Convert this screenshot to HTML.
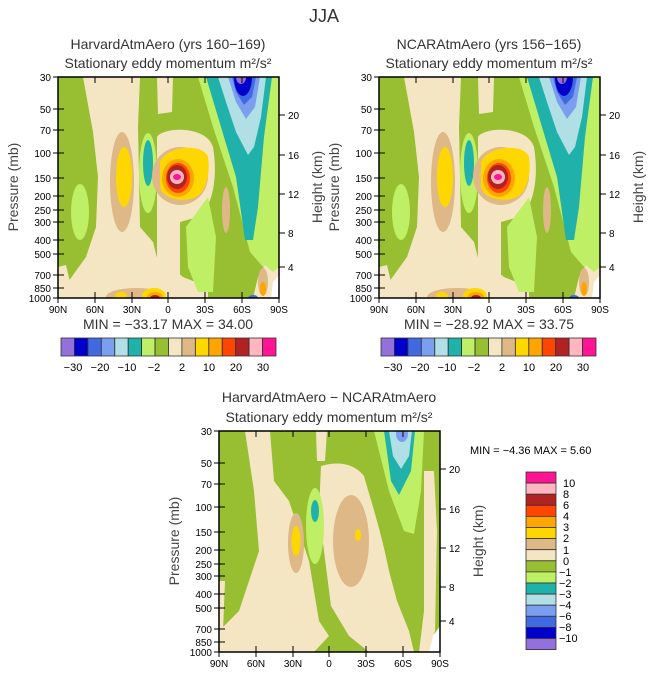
<!DOCTYPE html>
<html><head><meta charset="utf-8"><style>
html,body{margin:0;padding:0;background:#fff;}
svg{display:block;font-family:"Liberation Sans",sans-serif;}
</style></head><body>
<svg width="649" height="676" viewBox="0 0 649 676" xmlns="http://www.w3.org/2000/svg">
<defs>
<clipPath id="cp"><rect x="0" y="0" width="221" height="221"/></clipPath>
<g id="top">
<g clip-path="url(#cp)">
<rect x="0" y="0" width="221" height="221" fill="#98BE32"/>
<path d="M25,0 L82,0 L80,50 L82,150 L95,165 L100,185 L99,140 L99,221 L0,221 L10,205 L28,180 L38,150 L40,100 L35,55 Z" fill="#F5E6C3"/>
<path d="M60,185 L100,180 L125,200 L150,210 L150,221 L60,221 Z" fill="#F5E6C3"/>
<path d="M99,0 L115,0 L114,35 L100,37 Z" fill="#F5E6C3"/>
<path d="M99,60 C105,50 148,48 155,70 C160,100 155,130 140,140 L122,145 L122,200 L99,200 Z" fill="#F5E6C3"/>
<path d="M0,190 L8,188 L12,205 L5,221 L0,221 Z" fill="#F5E6C3"/>
<ellipse cx="22" cy="135" rx="9" ry="28" fill="#BFEF64"/>
<ellipse cx="64" cy="105" rx="12" ry="50" fill="#DEB887"/>
<ellipse cx="66" cy="100" rx="8" ry="30" fill="#FFD700"/>
<ellipse cx="90" cy="96" rx="9" ry="40" fill="#BFEF64"/>
<ellipse cx="90" cy="86" rx="5" ry="23" fill="#20B2AA"/>
<path d="M128,150 L150,120 L158,160 L155,215 L140,215 L130,190 Z" fill="#BFEF64"/>
<ellipse cx="168" cy="133" rx="4" ry="23" fill="#DEB887"/>
<path d="M140,0 L221,0 L221,200 L205,190 L192,175 L175,110 L155,50 Z" fill="#BFEF64"/>
<path d="M148,0 L214,0 L206,60 L200,130 L195,163 L187,163 L178,100 L160,40 Z" fill="#20B2AA"/>
<path d="M160,0 L208,0 L203,40 L196,70 L190,78 L178,55 L168,25 Z" fill="#B0E0E6"/>
<path d="M170,0 L202,0 L197,30 L188,42 L178,25 Z" fill="#7B9EF0"/>
<path d="M174,0 L198,0 L194,20 L186,28 L178,15 Z" fill="#4169E1"/>
<ellipse cx="185" cy="0" rx="9" ry="19" fill="#0000CD"/>
<ellipse cx="183" cy="0" rx="5" ry="7" fill="#9370DB"/>
<ellipse cx="78" cy="220" rx="30" ry="9" fill="#DEB887"/>
<ellipse cx="63" cy="219" rx="6" ry="4" fill="#FFD700"/>
<ellipse cx="96" cy="219" rx="12" ry="8" fill="#FFD700"/>
<ellipse cx="97" cy="220" rx="8" ry="5" fill="#FFA500"/>
<ellipse cx="97" cy="221" rx="5" ry="3" fill="#B22222"/>
<path d="M195,221 L200,200 L207,188 L215,195 L221,190 L221,221 Z" fill="#F5E6C3"/>
<ellipse cx="205" cy="205" rx="5" ry="14" fill="#DEB887"/>
<ellipse cx="205" cy="212" rx="3" ry="7" fill="#FFA500"/>
<path d="M215,205 L221,198 L221,221 L213,221 Z" fill="#fff"/>
<ellipse cx="195" cy="221" rx="5" ry="3" fill="#4169E1"/>
<ellipse cx="122" cy="99" rx="28" ry="29" fill="#DEB887"/>
<path d="M102,85 C110,68 145,66 150,80 C153,100 146,116 138,120 C125,126 105,122 102,110 Z" fill="#FFD700"/>
<ellipse cx="120" cy="101" rx="16" ry="19" fill="#FFA500"/>
<ellipse cx="120" cy="101" rx="12" ry="15" fill="#FF4500"/>
<ellipse cx="119" cy="100" rx="10" ry="12" fill="#B22222"/>
<ellipse cx="119" cy="100" rx="7" ry="7" fill="#FFB6C1"/>
<ellipse cx="119" cy="100" rx="4" ry="3" fill="#FF1493"/>
</g>
</g>
<g id="ax" stroke="#000" stroke-width="1" fill="none">
<rect x="0" y="0" width="221" height="221" stroke-width="1.5"/>
<path d="M0,0v6M37,0v6M74,0v6M110,0v6M147,0v6M184,0v6M221,0v6M0,221v-6M37,221v-6M74,221v-6M110,221v-6M147,221v-6M184,221v-6M221,221v-6
M0,32h6M0,53h6M0,76h6M0,101h6M0,119h6M0,133h6M0,145h6M0,163h6M0,177h6M0,198h6M0,211h6
M221,38h6M221,78h6M221,117h6M221,156h6M221,190h6"/>
<path d="M0,221v5M37,221v5M74,221v5M110,221v5M147,221v5M184,221v5M221,221v5M0,0h-5M0,32h-5M0,53h-5M0,76h-5M0,101h-5M0,119h-5M0,133h-5M0,145h-5M0,163h-5M0,177h-5M0,198h-5M0,211h-5M0,221h-5"/>
</g>
<g id="lab" font-size="10" fill="#000">
<g text-anchor="end">
<text x="-7" y="4">30</text><text x="-7" y="36">50</text><text x="-7" y="57">70</text><text x="-7" y="80">100</text><text x="-7" y="105">150</text><text x="-7" y="123">200</text><text x="-7" y="137">250</text><text x="-7" y="149">300</text><text x="-7" y="167">400</text><text x="-7" y="181">500</text><text x="-7" y="202">700</text><text x="-7" y="215">850</text><text x="-7" y="225">1000</text>
</g>
<g>
<text x="230" y="42">20</text><text x="230" y="82">16</text><text x="230" y="121">12</text><text x="230" y="160">8</text><text x="230" y="194">4</text>
</g>
<g text-anchor="middle">
<text x="0" y="236">90N</text><text x="37" y="236">60N</text><text x="74" y="236">30N</text><text x="110" y="236">0</text><text x="147" y="236">30S</text><text x="184" y="236">60S</text><text x="221" y="236">90S</text>
</g>
<text transform="translate(-40,110) rotate(-90)" text-anchor="middle" font-size="14" fill="#444">Pressure (mb)</text>
<text transform="translate(264,110) rotate(-90)" text-anchor="middle" font-size="14" fill="#444">Height (km)</text>
</g>
<g id="cbar" stroke="#333" stroke-width="0.8">
<rect x="0" width="13.4" height="18" fill="#9370DB"/><rect x="13.4" width="13.4" height="18" fill="#0000CD"/><rect x="26.9" width="13.4" height="18" fill="#4169E1"/><rect x="40.3" width="13.4" height="18" fill="#7B9EF0"/><rect x="53.8" width="13.4" height="18" fill="#B0E0E6"/><rect x="67.2" width="13.4" height="18" fill="#20B2AA"/><rect x="80.6" width="13.4" height="18" fill="#BFEF64"/><rect x="94.1" width="13.4" height="18" fill="#98BE32"/><rect x="107.5" width="13.4" height="18" fill="#F5E6C3"/><rect x="120.9" width="13.4" height="18" fill="#DEB887"/><rect x="134.4" width="13.4" height="18" fill="#FFD700"/><rect x="147.8" width="13.4" height="18" fill="#FFA500"/><rect x="161.3" width="13.4" height="18" fill="#FF4500"/><rect x="174.7" width="13.4" height="18" fill="#B22222"/><rect x="188.1" width="13.4" height="18" fill="#FFB6C1"/><rect x="201.6" width="13.4" height="18" fill="#FF1493"/>
<g stroke="none" font-size="11" text-anchor="middle" fill="#000">
<text x="12" y="33">−30</text><text x="39" y="33">−20</text><text x="66" y="33">−10</text><text x="93" y="33">−2</text><text x="121" y="33">2</text><text x="148" y="33">10</text><text x="175" y="33">20</text><text x="202" y="33">30</text>
</g>
</g>
</defs>

<text x="324" y="22" font-size="18" text-anchor="middle" fill="#333">JJA</text>

<g font-size="14" text-anchor="middle" fill="#333">
<text x="168" y="49">HarvardAtmAero (yrs 160−169)</text>
<text x="168" y="68">Stationary eddy momentum  m²/s²</text>
<text x="489" y="49">NCARAtmAero (yrs 156−165)</text>
<text x="489" y="68">Stationary eddy momentum  m²/s²</text>
<text x="329" y="402">HarvardAtmAero − NCARAtmAero</text>
<text x="329" y="422">Stationary eddy momentum  m²/s²</text>
<text x="168" y="329">MIN = −33.17   MAX =  34.00</text>
<text x="489" y="329">MIN = −28.92   MAX =  33.75</text>
</g>

<g transform="translate(58,77)"><use href="#top"/><use href="#ax"/><use href="#lab"/></g>
<g transform="translate(379,77)"><use href="#top"/><use href="#ax"/><use href="#lab"/></g>
<g transform="translate(61,338)"><use href="#cbar"/></g>
<g transform="translate(381,338)"><use href="#cbar"/></g>

<g transform="translate(219,431)">
<clipPath id="cp2"><rect x="0" y="0" width="221" height="221"/></clipPath>
<g clip-path="url(#cp2)">
<rect x="0" y="0" width="221" height="221" fill="#98BE32"/>
<path d="M26,0 L51,0 L55,50 L70,70 L90,130 L95,160 L100,190 L110,205 L95,221 L0,221 L0,200 L20,180 L30,150 L40,120 L35,60 Z" fill="#F5E6C3"/>
<path d="M97,0 L108,0 L106,30 L98,30 Z" fill="#F5E6C3"/>
<path d="M102,35 C118,30 135,32 145,45 C152,70 162,100 170,140 L178,170 L190,200 L195,221 L150,221 L130,205 L112,175 L105,120 L100,80 Z" fill="#F5E6C3"/>
<path d="M205,40 L215,40 L218,100 L216,200 L210,221 L200,221 L205,180 Z" fill="#F5E6C3"/>
<path d="M0,150 L6,150 L4,200 L0,210 Z" fill="#F5E6C3"/>
<ellipse cx="77" cy="112" rx="8" ry="30" fill="#DEB887"/>
<ellipse cx="77" cy="110" rx="4.5" ry="15" fill="#FFD700"/>
<ellipse cx="96" cy="95" rx="9" ry="38" fill="#BFEF64"/>
<ellipse cx="96" cy="80" rx="4" ry="11" fill="#20B2AA"/>
<ellipse cx="132" cy="110" rx="18" ry="46" fill="#DEB887"/>
<ellipse cx="139" cy="104" rx="3" ry="6" fill="#FFD700"/>
<path d="M155,0 L205,0 L202,60 L195,103 L185,100 L170,60 Z" fill="#BFEF64"/>
<path d="M165,0 L196,0 L192,40 L180,64 L172,50 Z" fill="#20B2AA"/>
<path d="M170,0 L193,0 L190,25 L182,38 L174,25 Z" fill="#B0E0E6"/>
<ellipse cx="183" cy="3" rx="6" ry="8" fill="#7B9EF0"/>
<path d="M210,221 L214,205 L221,195 L221,221 Z" fill="#fff"/>
</g>
<use href="#ax"/><use href="#lab"/>
</g>

<text x="470" y="454" font-size="11" fill="#000">MIN =   −4.36   MAX =    5.60</text>

<g transform="translate(526,472)" stroke="#333" stroke-width="0.8">
<rect y="0" width="30" height="11.1" fill="#FF1493"/><rect y="11.1" width="30" height="11.1" fill="#FFB6C1"/><rect y="22.2" width="30" height="11.1" fill="#B22222"/><rect y="33.3" width="30" height="11.1" fill="#FF4500"/><rect y="44.4" width="30" height="11.1" fill="#FFA500"/><rect y="55.5" width="30" height="11.1" fill="#FFD700"/><rect y="66.6" width="30" height="11.1" fill="#DEB887"/><rect y="77.7" width="30" height="11.1" fill="#F5E6C3"/><rect y="88.8" width="30" height="11.1" fill="#98BE32"/><rect y="99.9" width="30" height="11.1" fill="#BFEF64"/><rect y="111" width="30" height="11.1" fill="#20B2AA"/><rect y="122.1" width="30" height="11.1" fill="#B0E0E6"/><rect y="133.2" width="30" height="11.1" fill="#7B9EF0"/><rect y="144.3" width="30" height="11.1" fill="#4169E1"/><rect y="155.4" width="30" height="11.1" fill="#0000CD"/><rect y="166.5" width="30" height="11.1" fill="#9370DB"/>
<g stroke="none" font-size="11" fill="#000">
<text x="37" y="15">10</text><text x="37" y="26">8</text><text x="37" y="37">6</text><text x="37" y="48">4</text><text x="37" y="59">3</text><text x="37" y="70">2</text><text x="37" y="82">1</text><text x="37" y="93">0</text><text x="33" y="104">−1</text><text x="33" y="115">−2</text><text x="33" y="126">−3</text><text x="33" y="137">−4</text><text x="33" y="148">−6</text><text x="33" y="159">−8</text><text x="33" y="170">−10</text>
</g>
</g>
</svg>
</body></html>
